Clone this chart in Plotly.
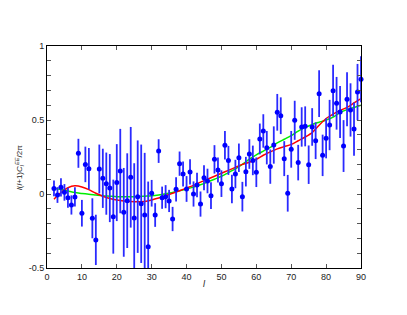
import plotly.graph_objects as go

# multipole l of the data points
ell = list(range(2, 91))
# measured l(l+1)C_l^EE/2pi
cl_ee = [0.038, -0.007, 0.045, 0.011, -0.025, -0.074, -0.02, 0.275, -0.13, 0.2,
         0.171, -0.164, -0.31, 0.169, 0.106, 0.07, 0.04, -0.153, 0.077, 0.155,
         -0.124, -0.045, 0.113, -0.162, -0.018, -0.066, -0.142, -0.356, 0.005, -0.142,
         0.29, -0.025, -0.018, -0.047, -0.169, 0.032, 0.205, 0.135, 0.034, 0.149,
         0.0, 0.061, -0.068, 0.11, 0.088, -0.011, 0.234, 0.162, 0.07, 0.329,
         0.227, 0.034, 0.135, 0.245, -0.018, 0.151, 0.27, 0.227, 0.147, 0.372,
         0.426, 0.313, 0.185, 0.331, 0.552, 0.529, 0.239, 0.005, 0.302, 0.498,
         0.212, 0.453, 0.457, 0.198, 0.453, 0.36, 0.678, 0.261, 0.376, 0.466,
         0.698, 0.613, 0.554, 0.324, 0.64, 0.568, 0.439, 0.689, 0.775]
# error bar half-lengths
cl_err = [0.054, 0.053, 0.062, 0.056, 0.068, 0.065, 0.065, 0.098, 0.09, 0.12,
          0.14, 0.135, 0.17, 0.165, 0.2, 0.21, 0.23, 0.25, 0.26, 0.285,
          0.3, 0.32, 0.34, 0.37, 0.38, 0.4, 0.42, 0.44, 0.09, 0.08,
          0.08, 0.075, 0.078, 0.075, 0.082, 0.082, 0.082, 0.085, 0.087, 0.085,
          0.085, 0.083, 0.085, 0.085, 0.083, 0.09, 0.096, 0.085, 0.09, 0.096,
          0.098, 0.096, 0.096, 0.096, 0.1, 0.1, 0.1, 0.1, 0.1, 0.104,
          0.113, 0.113, 0.116, 0.126, 0.124, 0.124, 0.118, 0.124, 0.124, 0.132,
          0.12, 0.133, 0.135, 0.13, 0.127, 0.124, 0.158, 0.14, 0.135, 0.17,
          0.175, 0.178, 0.175, 0.175, 0.183, 0.18, 0.18, 0.19, 0.155]

# model curves, read every 2 in l
ell_model = list(range(2, 91, 2))
model_red = [-0.035, 0.01, 0.042, 0.055, 0.048, 0.03, 0.005, -0.015, -0.03, -0.04,
             -0.047, -0.051, -0.053, -0.05, -0.04, -0.027, -0.012, 0.005, 0.022, 0.04,
             0.058, 0.08, 0.1, 0.12, 0.14, 0.16, 0.18, 0.2, 0.215, 0.235,
             0.262, 0.285, 0.305, 0.32, 0.335, 0.36, 0.385, 0.415, 0.465, 0.51,
             0.54, 0.565, 0.585, 0.615, 0.645]
model_green = [0.038, 0.03, 0.02, 0.01, 0.004, -0.002, -0.007, -0.012, -0.015, -0.018,
               -0.019, -0.019, -0.018, -0.015, -0.012, -0.006, 0.002, 0.011, 0.022, 0.033,
               0.047, 0.062, 0.08, 0.1, 0.12, 0.145, 0.17, 0.2, 0.235, 0.265,
               0.29, 0.315, 0.345, 0.37, 0.395, 0.425, 0.45, 0.47, 0.485, 0.5,
               0.52, 0.55, 0.57, 0.585, 0.6]

x_ticks = list(range(0, 91, 10))
y_tickvals = [-0.5, 0, 0.5, 1]
y_ticktext = ['-0.5', '0', '0.5', '1']

FONT = "Liberation Sans"

fig = go.Figure()
fig.add_trace(go.Scatter(x=ell_model, y=model_green, mode='lines', line=dict(color='#00ee00', width=1.5, shape='spline', smoothing=0.8), hoverinfo='skip'))
fig.add_trace(go.Scatter(x=ell_model, y=model_red, mode='lines', line=dict(color='#ff0000', width=1.5, shape='spline', smoothing=0.8), hoverinfo='skip'))
fig.add_trace(go.Scatter(x=ell, y=cl_ee, mode='markers',
                         marker=dict(color='rgba(0,0,0,0)', size=1),
                         error_y=dict(type='data', array=cl_err, visible=True, color='#2a2aff', thickness=1.8, width=0),
                         cliponaxis=True, hoverinfo='skip'))
fig.add_trace(go.Scatter(x=ell, y=cl_ee, mode='markers',
                         marker=dict(color='#0000ff', size=5, line=dict(width=0)),
                         cliponaxis=False))

axis_common = dict(showline=True, linecolor='black', linewidth=1, mirror='ticks',
                   ticks='inside', ticklen=4, tickcolor='#555', tickwidth=1,
                   showgrid=False, zeroline=False,
                   tickfont=dict(family=FONT, size=9, color='#222'))
fig.update_xaxes(range=[0, 90], tickvals=x_ticks, ticktext=[str(v) for v in x_ticks], **axis_common)
fig.update_yaxes(range=[-0.5, 1], tickvals=y_tickvals, ticktext=y_ticktext,
                 minor=dict(tickmode='linear', tick0=0, dtick=0.1, ticks='inside', ticklen=4,
                            tickcolor='#555', tickwidth=1, showgrid=False),
                 **axis_common)

fig.add_annotation(text="<i>l</i>", xref='paper', yref='paper', x=0.5, y=-0.072,
                   showarrow=False, xanchor='center', yanchor='middle',
                   font=dict(family=FONT, size=9, color='#222'))
fig.add_annotation(text="<i>l</i>(<i>l</i>+1)<i>C</i><sub><i>l</i></sub><sup><i>EE</i></sup>/2π",
                   xref='paper', yref='paper', x=-0.086, y=0.455, textangle=-90,
                   showarrow=False, xanchor='center', yanchor='middle',
                   font=dict(family=FONT, size=8, color='#222'))

fig.update_layout(width=407, height=315, margin=dict(l=47, r=46, t=46, b=47),
                  paper_bgcolor='white', plot_bgcolor='white', showlegend=False)
fig.write_html("out.html", config={'displayModeBar': False},
               post_script="document.body.style.margin='0px';")
